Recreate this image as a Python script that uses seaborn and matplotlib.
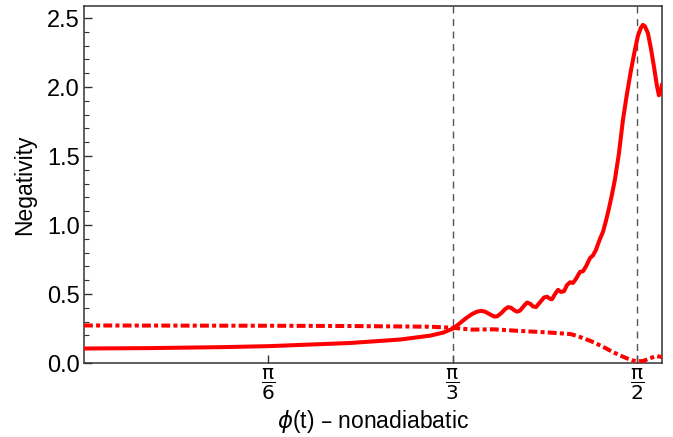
import numpy as np
import pandas as pd
import matplotlib
matplotlib.use("Agg")
import matplotlib.pyplot as plt
import seaborn as sns

# Negativity along the nonadiabatic path, solid series
phi_solid = [0.0, 0.189, 0.3927, 0.5236, 0.756, 0.898, 0.983, 1.020, 1.0486,
             1.0685, 1.0855, 1.1025, 1.1167, 1.1281, 1.1394, 1.1536, 1.1650,
             1.1735, 1.1848, 1.1962, 1.2047, 1.2132, 1.2217, 1.2302, 1.2387,
             1.2501, 1.2586, 1.2671, 1.2756, 1.2841, 1.2955, 1.3069, 1.3154,
             1.3239, 1.3296, 1.3381, 1.3466, 1.3551, 1.3636, 1.3722, 1.3806,
             1.3892, 1.3977, 1.4090, 1.4176, 1.4261, 1.4374, 1.4459, 1.4544,
             1.4658, 1.4743, 1.4828, 1.4913, 1.4998, 1.5083, 1.5197, 1.5310,
             1.5424, 1.5538, 1.5651, 1.5736, 1.5821, 1.5878, 1.5935, 1.6020,
             1.6105, 1.6190, 1.6275, 1.6332, 1.6389, 1.642]
neg_solid = [0.105, 0.108, 0.115, 0.122, 0.145, 0.170, 0.198, 0.220, 0.250,
             0.290, 0.325, 0.355, 0.372, 0.378, 0.372, 0.352, 0.337,
             0.338, 0.360, 0.390, 0.405, 0.400, 0.383, 0.372, 0.380,
             0.415, 0.438, 0.430, 0.410, 0.405, 0.440, 0.475, 0.480,
             0.465, 0.462, 0.500, 0.530, 0.515, 0.520, 0.565, 0.585,
             0.580, 0.610, 0.660, 0.665, 0.700, 0.760, 0.780, 0.820,
             0.900, 0.950, 1.030, 1.120, 1.220, 1.330, 1.520, 1.760,
             1.950, 2.120, 2.270, 2.370, 2.430, 2.450, 2.440, 2.390,
             2.280, 2.150, 2.010, 1.940, 1.960, 2.020]

# Negativity, dash-dotted series
phi_dash = [0.0, 0.5236, 0.756, 0.983, 1.049, 1.100, 1.165, 1.227, 1.315,
            1.381, 1.400, 1.418, 1.437, 1.456, 1.480, 1.502, 1.522, 1.541,
            1.557, 1.570, 1.588, 1.608, 1.627, 1.642]
neg_dash = [0.272, 0.270, 0.268, 0.263, 0.255, 0.242, 0.244, 0.234, 0.222,
            0.210, 0.197, 0.180, 0.162, 0.140, 0.110, 0.080, 0.056, 0.035,
            0.020, 0.012, 0.014, 0.035, 0.050, 0.043]

# Reference angles marked on the axis
tick_pos = [np.pi / 6, np.pi / 3, np.pi / 2]
tick_lab = [r"$\dfrac{\mathrm{\pi}}{6}$", r"$\dfrac{\mathrm{\pi}}{3}$",
            r"$\dfrac{\mathrm{\pi}}{2}$"]
vlines = [np.pi / 3, np.pi / 2]

sns.set_theme(style="ticks")
plt.rcParams["font.family"] = ["Liberation Sans", "DejaVu Sans"]
plt.rcParams["mathtext.fontset"] = "dejavusans"
plt.rcParams["text.color"] = "black"
plt.rcParams["axes.labelcolor"] = "black"
plt.rcParams["xtick.color"] = "black"
plt.rcParams["ytick.color"] = "black"

fig = plt.figure(figsize=(6.73, 4.37), dpi=100)
ax = fig.add_axes([84 / 673, 74 / 437, 578 / 673, 357 / 437])

df_s = pd.DataFrame({"phi": phi_solid, "neg": neg_solid})
df_d = pd.DataFrame({"phi": phi_dash, "neg": neg_dash})

for xv in vlines:
    ax.axvline(xv, color="#555555", lw=1.0, ls=(0, (5, 4)), zorder=1)

sns.lineplot(data=df_d, x="phi", y="neg", ax=ax, color="#ff0000", lw=2.9,
             estimator=None, sort=False, ls=(0, (2.2, 0.8, 1.0, 0.8)), zorder=3)
sns.lineplot(data=df_s, x="phi", y="neg", ax=ax, color="#ff0000", lw=2.9,
             estimator=None, sort=False, zorder=4, solid_capstyle="round",
             solid_joinstyle="round")

ax.set_xlim(0, 1.642)
ax.set_ylim(0, 2.587)
ax.set_xticks(tick_pos, labels=tick_lab, fontsize=14.5)
ax.set_yticks([0.0, 0.5, 1.0, 1.5, 2.0, 2.5],
              labels=["0.0", "0.5", "1.0", "1.5", "2.0", "2.5"], fontsize=17)
ax.set_yticks(np.arange(0, 2.55, 0.1), minor=True)

ax.tick_params(axis="both", which="major", direction="in", length=6,
               width=1.0, color="#333333", top=False, right=False)
ax.tick_params(axis="y", which="minor", direction="in", length=3.5,
               width=0.8, color="#333333", right=False)
ax.tick_params(axis="x", which="major", pad=3)
ax.tick_params(axis="y", which="major", pad=3)

for sp in ax.spines.values():
    sp.set_visible(True)
    sp.set_color("#333333")
    sp.set_linewidth(1.1)

ax.set_xlabel(r"$\phi$(t) – nonadiabatic", fontsize=16.5, labelpad=4)
ax.set_ylabel("Negativity", fontsize=16.5, labelpad=8)

fig.savefig("out.png", dpi=100)
